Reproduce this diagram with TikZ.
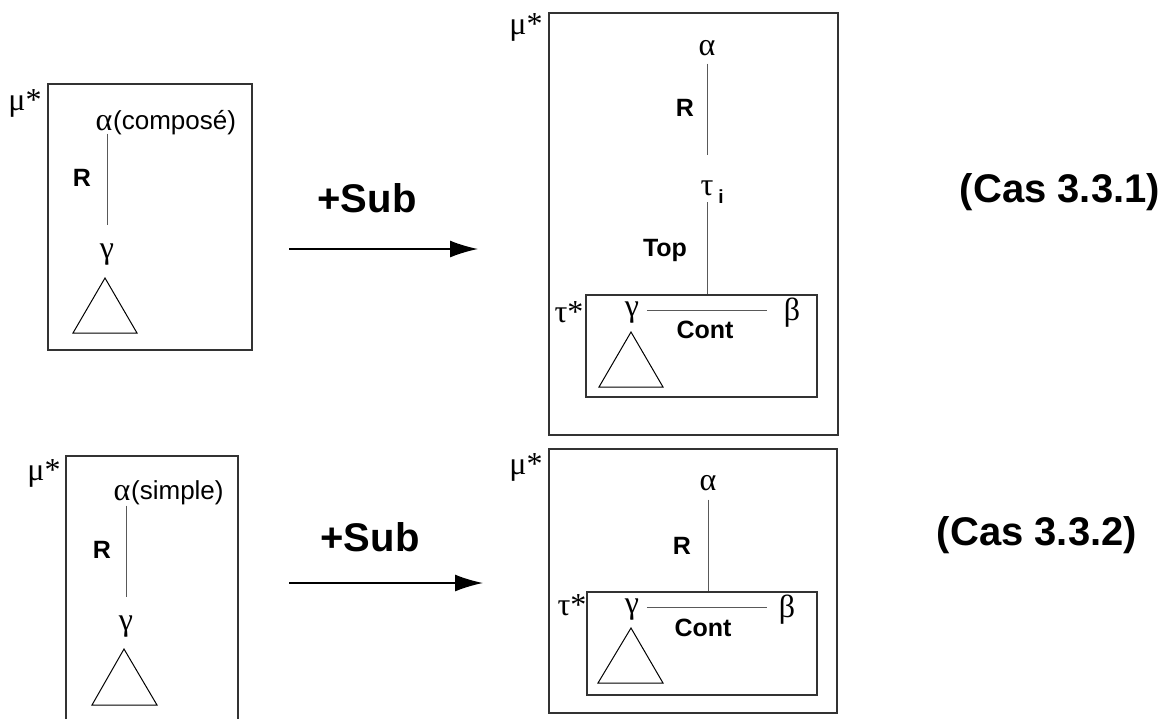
\documentclass[tikz,border=0pt]{standalone}
\usepackage{fontspec}
\setmainfont{Liberation Sans}
\newfontfamily\greekfont{Liberation Serif}
\usetikzlibrary{arrows.meta,positioning,fit}
\tikzset{>={Latex[length=14pt,width=8.5pt]}}
\colorlet{framecol}{black!80}
\colorlet{edgecol}{black!65}
\tikzset{
  txt/.style={inner sep=0pt, font=\fontsize{13}{15}\selectfont},
  grk/.style={inner sep=0pt, font=\fontsize{16}{18}\selectfont\greekfont},
  rel/.style={inner sep=0pt, font=\fontsize{12.5}{15}\selectfont\bfseries},
  big/.style={inner sep=0pt, font=\fontsize{20}{24}\selectfont\bfseries},
  frame/.style={draw=framecol, line width=0.7pt, inner sep=0pt},
  edge/.style={draw=edgecol, line width=0.5pt},
  tri/.style={draw=black, line width=0.5pt},
}

\begin{document}
\begin{tikzpicture}[x=0.5pt, y=-0.5pt]
    \useasboundingbox (0, 0) rectangle (1162, 719);

    % Cas 3.3.1
    \begin{scope}
        \node[frame, fit={(48, 84) (252, 350)}] (mu1) {};
        \node[grk] (mu1lbl) at (25, 103) {μ*};
        \node[grk] (a1) at (104, 123) {α};
        \node[txt, right=0pt of a1] (a1txt) {(composé)};
        \node[grk] (g1) at (107, 255) {γ};
        \draw[edge, shorten <=1.25pt, shorten >=9.5pt] (g1 |- a1.south) -- (g1.north);
        \node[rel] (r1) at (82, 178) {R};
        \draw[tri] (105, 278) -- (73, 333) -- (137, 333) -- cycle;

        \coordinate (s1) at (289, 249);
        \coordinate (e1) at (478, 249);
        \draw[thick, ->] (s1) -- (e1);
        \node[big] (sub1) at (367, 198) {+Sub};

        \node[frame, fit={(549, 13) (838, 435)}] (mu2) {};
        \node[grk] (mu2lbl) at (526, 27) {μ*};
        \node[grk] (a2) at (707, 48) {α};
        \node[grk] (t2) at (707, 188) {τ};
        \node[inner sep=0pt, font=\fontsize{9.5}{11}\selectfont\bfseries] (t2i) at (721, 197) {i};
        \draw[edge, shorten <=3.75pt, shorten >=12.75pt] (a2.south) -- (t2.north);
        \node[rel] (r2) at (685, 108) {R};
        \node[frame, fit={(586, 295) (817, 397)}] (tau2) {};
        \draw[edge, shorten <=3.25pt] (t2.south) -- (t2 |- tau2.north);
        \node[rel] (top2) at (665, 250) {Top};
        \node[grk] (tau2lbl) at (569, 312) {τ*};
        \node[grk] (g2) at (632, 313) {γ};
        \node[grk] (b2) at (792, 313) {β};
        \draw[edge, shorten <=3.75pt, shorten >=8pt] ([yshift=1.5pt]g2.east) -- ([yshift=1.5pt]b2.west);
        \node[rel] (c2) at (705, 330) {Cont};
        \draw[tri] (631, 332) -- (599, 387) -- (663, 387) -- cycle;

        \node[big] (cas1) at (1060, 192) {(Cas 3.3.1)};
    \end{scope}

    % Cas 3.3.2
    \begin{scope}
        \draw[frame] (66, 719) -- (66, 456) -- (238, 456) -- (238, 719);
        \node[grk] (mu3lbl) at (44, 473) {μ*};
        \node[grk] (a3) at (122, 493) {α};
        \node[txt, right=0pt of a3] (a3txt) {(simple)};
        \node[grk] (g3) at (126, 627) {γ};
        \draw[edge, shorten <=2.25pt, shorten >=9.5pt] (g3 |- a3.south) -- (g3.north);
        \node[rel] (r3) at (102, 550) {R};
        \draw[tri] (124, 649) -- (92, 705) -- (157, 705) -- cycle;

        \coordinate (s3) at (289, 583);
        \coordinate (e3) at (483, 583);
        \draw[thick, ->] (s3) -- (e3);
        \node[big] (sub3) at (370, 537) {+Sub};

        \node[frame, fit={(549, 449) (837, 713)}] (mu4) {};
        \node[grk] (mu4lbl) at (526, 467) {μ*};
        \node[grk] (a4) at (708, 483) {α};
        \node[rel] (r4) at (682, 546) {R};
        \node[frame, fit={(587, 592) (817, 695)}] (tau4) {};
        \draw[edge, shorten <=4.25pt] (a4.south) -- (a4 |- tau4.north);
        \node[grk] (tau4lbl) at (572, 605) {τ*};
        \node[grk] (g4) at (632, 610) {γ};
        \node[grk] (b4) at (787, 610) {β};
        \draw[edge, shorten <=3.75pt, shorten >=5.5pt] ([yshift=1.5pt]g4.east) -- ([yshift=1.5pt]b4.west);
        \node[rel] (c4) at (703, 628) {Cont};
        \draw[tri] (631, 628) -- (598, 683) -- (663, 683) -- cycle;

        \node[big] (cas2) at (1037, 535) {(Cas 3.3.2)};
    \end{scope}
\end{tikzpicture}
\end{document}
